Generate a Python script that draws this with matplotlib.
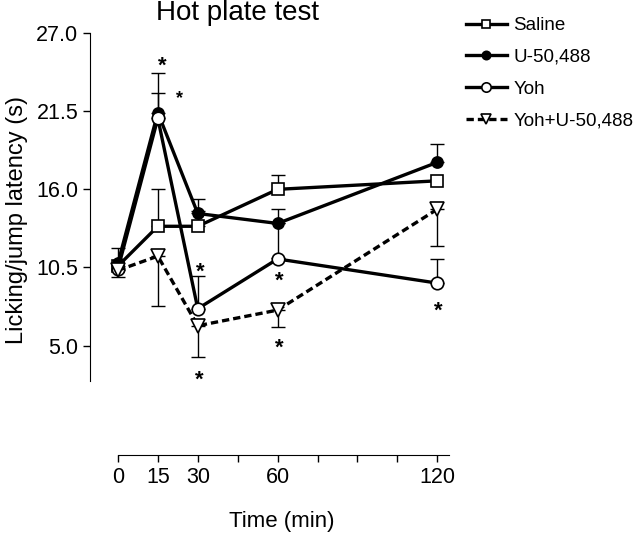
import numpy as np
import matplotlib.pyplot as plt

plt.rcParams['font.family'] = ['Liberation Sans', 'DejaVu Sans']

# time points (min)
time = [0, 15, 30, 60, 120]

# mean latencies (s)
saline = [10.6, 13.4, 13.4, 16.0, 16.6]
u50488 = [10.8, 21.4, 14.3, 13.6, 17.9]
yoh = [10.4, 21.0, 7.6, 11.1, 9.4]
yoh_u50 = [10.3, 11.3, 6.4, 7.5, 14.6]

# one-sided error bars (lower, upper), 0 = not drawn
saline_err = ([0, 0, 0, 0, 0], [1.3, 2.6, 1.1, 1.0, 0])
u50488_err = ([0, 0, 0, 2.4, 0], [0, 2.8, 1.0, 1.0, 1.3])
yoh_err = ([0, 0, 0, 0, 0], [0, 1.8, 2.3, 0, 1.7])
yoh_u50_err = ([0.5, 3.5, 2.2, 1.2, 2.6], [0, 0, 0, 0, 0])

# significance markers
star_x = [16.5, 23.0, 30.8, 30.5, 60.5, 60.5, 120.5]
star_y = [24.7, 22.4, 10.2, 2.6, 9.5, 4.8, 7.4]
star_size = [16, 13, 16, 16, 16, 16, 16]

fig = plt.figure(figsize=(6.4, 5.33), dpi=100)
ax = fig.add_axes([0.1406, 0.1463, 0.578, 0.805])

series = [
    ('Saline', saline, saline_err, dict(marker='s', mfc='white', ms=8, ls='-')),
    ('U-50,488', u50488, u50488_err, dict(marker='o', mfc='black', ms=8, ls='-')),
    ('Yoh', yoh, yoh_err, dict(marker='o', mfc='white', ms=9, ls='-')),
    ('Yoh+U-50,488', yoh_u50, yoh_u50_err, dict(marker='v', mfc='white', ms=10, ls=(0, (2.2, 1.2)))),
]

t = np.array(time)
for name, vals, err, st in series:
    vals = np.array(vals)
    lo = np.array(err[0])
    hi = np.array(err[1])
    for i in range(len(t)):
        if lo[i] > 0:
            ax.errorbar(t[i], vals[i], yerr=[[lo[i]], [0]], fmt='none', ecolor='black',
                        elinewidth=1.0, capsize=5, capthick=1.0, zorder=1)
        if hi[i] > 0:
            ax.errorbar(t[i], vals[i], yerr=[[0], [hi[i]]], fmt='none', ecolor='black',
                        elinewidth=1.0, capsize=5, capthick=1.0, zorder=1)
    ax.plot(t, vals, color='black', lw=2.4, mec='black', mew=1.2, label=name, zorder=3, **st)

for x, y, s in zip(star_x, star_y, star_size):
    ax.text(x, y, '*', fontsize=s, fontweight='bold', ha='center', va='center')

ax.set_xlim(-10.5, 128.5)
ax.set_ylim(-2.7, 27.5)
ax.spines['top'].set_visible(False)
ax.spines['right'].set_visible(False)
ax.spines['left'].set_bounds(2.5, 27.0)
ax.spines['bottom'].set_bounds(0, 124.5)
ax.set_yticks([5.0, 10.5, 16.0, 21.5, 27.0])
ax.set_yticklabels(['5.0', '10.5', '16.0', '21.5', '27.0'])
ax.set_xticks(np.arange(0, 121, 15))
ax.set_xticklabels(['0', '15', '30', '', '60', '', '', '', '120'])
ax.tick_params(labelsize=15.5, width=1, length=5)

ax.set_ylabel('Licking/jump latency (s)', fontsize=17)
ax.yaxis.set_label_coords(-0.168, 0.548)
ax.set_xlabel('Time (min)', fontsize=16)
ax.xaxis.set_label_coords(0.519, -0.13)
fig.text(237 / 640, 1 - 13 / 533, 'Hot plate test', fontsize=20, ha='center', va='center')

leg = ax.legend(loc='upper left', bbox_to_anchor=(0.97, 1.06), frameon=False,
                fontsize=13.5, handlelength=2.2, labelspacing=0.78, handletextpad=0.35,
                markerscale=0.75)

fig.savefig('out.png', dpi=100)
